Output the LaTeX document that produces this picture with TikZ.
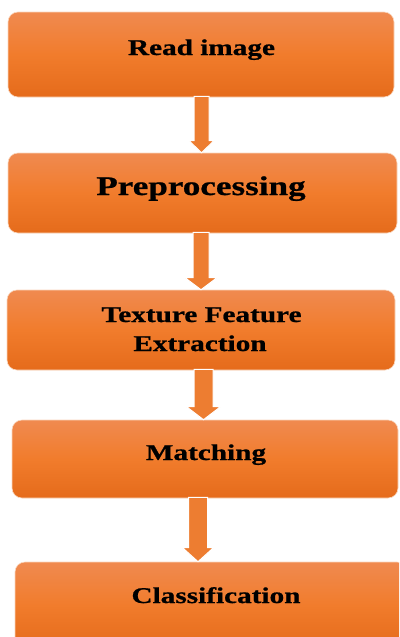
\documentclass[tikz,border=0pt]{standalone}
\usepackage{fontspec}
\usetikzlibrary{calc}
\newfontfamily\boxfont[FakeStretch=1.3, BoldFeatures={FakeBold=0.8}]{Liberation Serif}

\definecolor{boxtop}{RGB}{240,138,80}
\definecolor{boxmid}{RGB}{241,124,44}
\definecolor{boxbot}{RGB}{229,107,27}
\definecolor{arrowfill}{RGB}{237,125,49}
\definecolor{boxedge}{RGB}{250,215,190}

\tikzset{
  stagebox/.style={rectangle, rounded corners=10pt, inner sep=0pt,
    top color=boxtop, bottom color=boxbot, middle color=boxmid,
    draw=boxedge, line width=0.6pt},
  stagetext/.style={anchor=base, inner sep=0pt, text=black,
    font=\boxfont\bfseries\fontsize{22.5}{29}\selectfont, align=center},
  blockarrow/.style={fill=arrowfill, draw=white, line width=1pt, line join=miter}
}

% block arrow: source, target, centre x, shaft half width, head half width, head length
\newcommand\flowarrow[6]{%
  \draw[blockarrow] let \p1=(#1.south), \p2=(#2.north) in
    ({(#3-#4)*1pt},{\y1+1pt}) -- ({(#3-#4)*1pt},{\y2+#6*1pt})
    -- ({(#3-#5)*1pt},{\y2+#6*1pt}) -- ({#3*1pt},\y2)
    -- ({(#3+#5)*1pt},{\y2+#6*1pt}) -- ({(#3+#4)*1pt},{\y2+#6*1pt})
    -- ({(#3+#4)*1pt},{\y1+1pt}) -- cycle;}

\begin{document}
\begin{tikzpicture}[x=1pt, y=-1pt]
  \useasboundingbox (0,0) rectangle (399,637);
  \clip (0,0) rectangle (399,637);
  \fill[white] (0,0) rectangle (399,637);

  % process stages
  \node[stagebox, minimum width=386pt, minimum height=85pt] (b1) at (201,54.5) {};
  \node[stagebox, minimum width=389pt, minimum height=80pt] (b2) at (202.5,193) {};
  \node[stagebox, minimum width=388pt, minimum height=80pt] (b3) at (201,330) {};
  \node[stagebox, minimum width=386pt, minimum height=78pt] (b4) at (205,459) {};
  \node[stagebox, minimum width=392pt, minimum height=86pt] (b5) at (211,605) {};

  % stage labels
  \node[stagetext] (t1) at (201.5,55) {Read image};
  \node[stagetext, font=\boxfont\bfseries\fontsize{27}{32}\selectfont] (t2) at (201,195) {Preprocessing};
  \node[stagetext] (t3a) at (201.5,322) {Texture Feature};
  \node[stagetext] (t3b) at (200,351) {Extraction};
  \node[stagetext] (t4) at (206,460) {Matching};
  \node[stagetext] (t5) at (216,603) {Classification};

  % connectors between stages
  \flowarrow{b1}{b2}{201.5}{7.5}{12.5}{12}
  \flowarrow{b2}{b3}{201}{8}{16}{12}
  \flowarrow{b3}{b4}{203.5}{9.5}{17}{13}
  \flowarrow{b4}{b5}{198}{9.5}{15.5}{14}
\end{tikzpicture}
\end{document}
